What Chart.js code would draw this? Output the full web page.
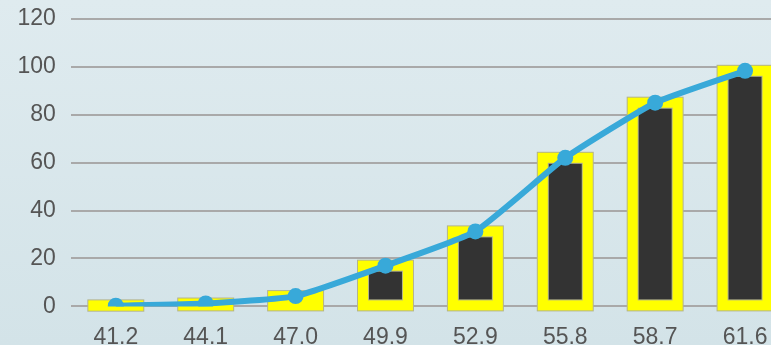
<!DOCTYPE html>
<html>
<head>
<meta charset="utf-8">
<script src="https://cdn.jsdelivr.net/npm/chart.js@4"></script>
<style>
    html, body {
        margin: 0;
        padding: 0;
        width: 771px;
        height: 345px;
        overflow: hidden;
        background: linear-gradient(#dfebef, #d3e3e8);
    }
    #wrap {
        width: 798px;
        height: 378px;
        margin-top: -10px;
    }
</style>
</head>
<body>
<div id="wrap"><canvas id="cdfChart" width="798" height="378"></canvas></div>
<script>
// class midpoints and cumulative share (%)
const categories = ['41.2', '44.1', '47.0', '49.9', '52.9', '55.8', '58.7', '61.6'];
const cumulative = [0.3, 1.2, 4.3, 17, 31.3, 62, 85, 98.3];
const yTicks = [0, 20, 40, 60, 80, 100, 120];

const FONT = "'Liberation Sans', Arial, sans-serif";

// thick yellow frame around each dark bar, drawn centred on the bar edge
const barFrame = {
    id: 'barFrame',
    afterDatasetDraw(chart, args) {
        if (args.meta.type !== 'bar') return;
        const ctx = chart.ctx;
        ctx.save();
        args.meta.data.forEach((bar) => {
            const p = bar.getProps(['x', 'y', 'base', 'width'], true);
            const left = p.x - p.width / 2;
            const top = Math.min(p.y, p.base);
            const h = Math.abs(p.base - p.y);
            ctx.lineJoin = 'miter';
            ctx.strokeStyle = '#b4b48c';
            ctx.lineWidth = 12;
            ctx.strokeRect(left, top, p.width, h);
            ctx.strokeStyle = '#ffff00';
            ctx.lineWidth = 10;
            ctx.strokeRect(left, top, p.width, h);
        });
        ctx.restore();
    }
};

new Chart(document.getElementById('cdfChart'), {
    type: 'bar',
    data: {
        labels: categories,
        datasets: [
            {
                type: 'line',
                data: cumulative,
                borderColor: '#38a9d9',
                backgroundColor: '#38a9d9',
                borderWidth: 6,
                pointRadius: 8,
                pointBackgroundColor: '#38a9d9',
                pointBorderWidth: 0,
                tension: 0.15,
                order: 1
            },
            {
                type: 'bar',
                data: cumulative,
                backgroundColor: '#333333',
                borderWidth: 0,
                barPercentage: 0.5,
                categoryPercentage: 1,
                order: 2
            }
        ]
    },
    options: {
        responsive: false,
        animation: false,
        devicePixelRatio: 1,
        layout: { padding: { left: 2.5, top: 0, right: 0, bottom: 0 } },
        plugins: {
            legend: { display: false },
            tooltip: { enabled: false }
        },
        scales: {
            x: {
                offset: true,
                grid: { display: false, drawTicks: false },
                border: { display: false },
                ticks: { color: '#555555', font: { family: FONT, size: 23 }, padding: 17, maxRotation: 0 }
            },
            y: {
                min: 0,
                max: 120,
                afterBuildTicks(scale) {
                    scale.ticks = yTicks.map((v) => ({ value: v }));
                },
                grid: { color: '#a9a9a9', lineWidth: 2, drawTicks: false },
                border: { display: false },
                ticks: { color: '#555555', font: { family: FONT, size: 23 }, padding: 15 }
            }
        }
    },
    plugins: [barFrame]
});
</script>
</body>
</html>
